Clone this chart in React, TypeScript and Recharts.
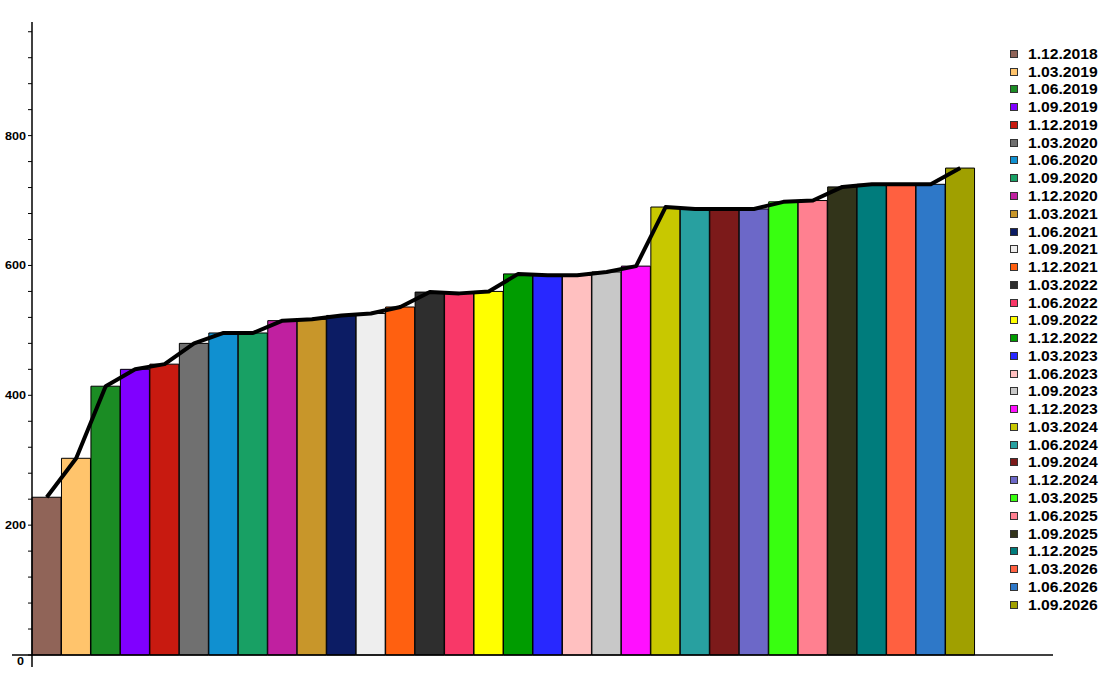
import React from 'react';
import { ComposedChart, Bar, Line, Cell, XAxis, YAxis } from 'recharts';

const dates = [
  '1.12.2018', '1.03.2019', '1.06.2019', '1.09.2019', '1.12.2019',
  '1.03.2020', '1.06.2020', '1.09.2020', '1.12.2020', '1.03.2021',
  '1.06.2021', '1.09.2021', '1.12.2021', '1.03.2022', '1.06.2022',
  '1.09.2022', '1.12.2022', '1.03.2023', '1.06.2023', '1.09.2023',
  '1.12.2023', '1.03.2024', '1.06.2024', '1.09.2024', '1.12.2024',
  '1.03.2025', '1.06.2025', '1.09.2025', '1.12.2025', '1.03.2026',
  '1.06.2026', '1.09.2026',
];

const values = [
  243, 303, 414, 440, 448, 480, 496, 496, 515, 517,
  523, 526, 536, 559, 557, 560, 587, 585, 585, 590,
  599, 690, 687, 687, 687, 698, 700, 721, 725, 725,
  725, 750,
];

const colors = [
  '#906458', '#FFC46C', '#1B8C24', '#8000FF', '#C81A10',
  '#707070', '#1090D0', '#18A064', '#C020A0', '#C8962A',
  '#0C1C64', '#EEEEEE', '#FF6010', '#2E2E2E', '#F83868',
  '#FFFF00', '#009C00', '#2828FF', '#FFC0C0', '#C8C8C8',
  '#FF10FF', '#C8C800', '#28A0A0', '#7C1A1A', '#6C68C8',
  '#38FF10', '#FF8090', '#32341A', '#007C7C', '#FF6040',
  '#2E78C8', '#A0A000',
];

const yTicks = [
  0, 40, 80, 120, 160, 200, 240, 280, 320, 360, 400, 440, 480,
  520, 560, 600, 640, 680, 720, 760, 800, 840, 880, 920, 960,
];

const data = dates.map((d, i) => ({ name: d, value: values[i] }));

function YTick(props: any) {
  const { y, payload } = props;
  const v = payload.value;
  if (v % 200 !== 0) return <g />;
  const label = String(v);
  return (
    <text
      x={v === 0 ? 24 : 26}
      y={v === 0 ? y + 6 : y}
      dy="0.36em"
      textAnchor="end"
      fontFamily="'Liberation Sans', Arial, sans-serif"
      fontWeight="bold"
      fontSize={11}
      textLength={label.length * 7}
      lengthAdjust="spacingAndGlyphs"
      fill="#000"
    >
      {label}
    </text>
  );
}

export default function App() {
  return (
    <div style={{ position: 'absolute', left: 0, top: 0, width: 1111, height: 689, background: '#fff' }}>
      <ComposedChart
        width={1111}
        height={689}
        data={data}
        margin={{ top: 22, right: 58, left: 0, bottom: 33 }}
        barCategoryGap={0}
      >
        <XAxis
          dataKey="name"
          type="category"
          tick={false}
          tickLine={false}
          height={1}
          padding={{ left: 0, right: 78 }}
          axisLine={{ stroke: '#000', strokeWidth: 1.5 }}
        />
        <YAxis
          domain={[0, 975]}
          ticks={yTicks}
          width={32}
          tickSize={4}
          tick={<YTick />}
          tickLine={{ stroke: '#000' }}
          axisLine={{ stroke: '#000', strokeWidth: 1.5 }}
          interval={0}
        />
        <Bar dataKey="value" stroke="#000" strokeWidth={1} isAnimationActive={false}>
          {data.map((d, i) => (
            <Cell key={d.name} fill={colors[i]} />
          ))}
        </Bar>
        <Line
          dataKey="value"
          type="linear"
          stroke="#000"
          strokeWidth={4}
          strokeLinejoin="round"
          dot={false}
          activeDot={false}
          isAnimationActive={false}
        />
      </ComposedChart>
      <svg width={1111} height={689} style={{ position: 'absolute', left: 0, top: 0, pointerEvents: 'none' }}>
        <line x1={12} y1={655} x2={32} y2={655} stroke="#000" strokeWidth={1.5} />
        <line x1={32} y1={655} x2={32} y2={667} stroke="#000" strokeWidth={1.5} />
      </svg>
      <div style={{ position: 'absolute', left: 1010, top: 45, fontFamily: "'Liberation Sans', Arial, sans-serif", fontWeight: 'bold', fontSize: 14 }}>
        {dates.map((d, i) => (
          <div key={d} style={{ height: 17.77, display: 'flex', alignItems: 'center', whiteSpace: 'nowrap' }}>
            <span
              style={{
                display: 'inline-block',
                width: 6,
                height: 6,
                background: colors[i],
                border: '1px solid #333',
                marginRight: 10,
              }}
            />
            <span style={{ color: '#000', display: 'inline-block', transform: 'scaleX(1.12)', transformOrigin: 'left center' }}>{d}</span>
          </div>
        ))}
      </div>
    </div>
  );
}
